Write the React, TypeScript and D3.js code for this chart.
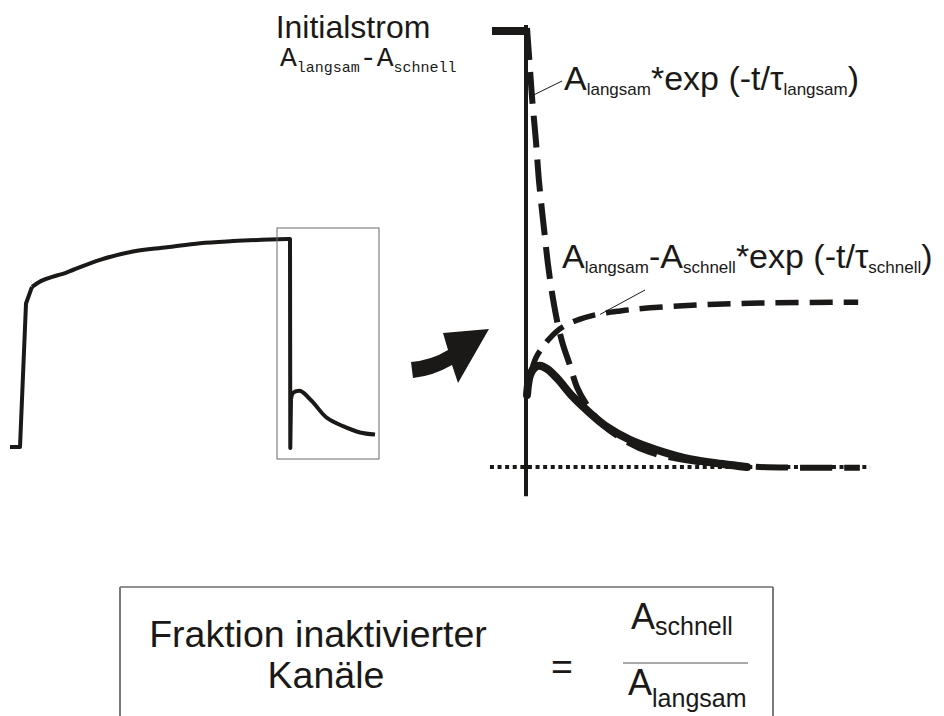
import React from "react";
import * as d3 from "d3";

// Overview recording: time (ms) and normalized current
const overviewTime = [0, 10, 16, 22, 28, 57, 90, 123, 157, 190, 223, 278, 280, 280.3, 281, 283, 289, 300, 317, 333, 350, 365];
const overviewCurrent = [0, 0, 0.69, 0.77, 0.79, 0.84, 0.9, 0.94, 0.96, 0.98, 0.99, 1.0, 1.0, -0.005, 0.23, 0.26, 0.27, 0.23, 0.14, 0.1, 0.07, 0.06];

// Zoomed view: holding current before the step (normalized to the initial current)
const holdTime = [-10.3, 0];
const holdCurrent = [1, 1];
const dropCurrent = [1.014, -0.067];

// Recovered current after the step
const recoveryTime = [0, 0.9, 2.4, 3.8, 5.9, 8.8, 13.5, 18.5, 23.5, 30.3, 38.2, 47.9, 57.6, 64.7];
const recoveryCurrent = [0.165, 0.211, 0.229, 0.232, 0.225, 0.204, 0.161, 0.124, 0.092, 0.062, 0.039, 0.018, 0.007, 0.0];

// A_langsam * exp(-t / tau_langsam)
const slowTime = [0, 0.9, 1.5, 2.6, 3.5, 4.4, 5.3, 6.2, 7.6, 9.1, 10.6, 12.6, 14.7, 17.6, 21.5, 27.4, 36.2, 47.9, 59.7, 68.5, 97.9];
const slowCurrent = [1.007, 0.911, 0.846, 0.75, 0.658, 0.589, 0.525, 0.463, 0.388, 0.326, 0.28, 0.234, 0.183, 0.142, 0.103, 0.067, 0.034, 0.014, 0.005, 0.0, -0.002];

// A_langsam - A_schnell * exp(-t / tau_schnell)
const fastTime = [1.2, 2.6, 4.4, 6.8, 9.7, 14.1, 20.0, 27.4, 36.2, 50.9, 68.5, 97.4];
const fastCurrent = [0.218, 0.25, 0.273, 0.296, 0.317, 0.335, 0.349, 0.358, 0.365, 0.372, 0.376, 0.378];

// Zero-current reference line extent
const baselineTime = [-10.9, 100.9];

const INK = "#1b1918";
const SANS = "'Liberation Sans', Arial, Helvetica, sans-serif";
const MONO = "'Liberation Mono', 'Courier New', monospace";

type Pt = [number, number];
const zip = (xs: number[], ys: number[]): Pt[] => xs.map((x, i) => [x, ys[i]]);

export default function App() {
  const W = 944;
  const H = 716;

  // overview panel scales
  const xL = d3.scaleLinear().domain([0, 370]).range([10, 380]);
  const yL = d3.scaleLinear().domain([0, 1]).range([447, 239]);

  // zoomed panel scales
  const xR = d3.scaleLinear().domain([0, 100]).range([527, 867]);
  const yR = d3.scaleLinear().domain([0, 1]).range([467, 31]);

  const lineL = d3
    .line<Pt>()
    .x((d) => xL(d[0]))
    .y((d) => yL(d[1]))
    .curve(d3.curveCatmullRom.alpha(1));
  const lineLLin = d3
    .line<Pt>()
    .x((d) => xL(d[0]))
    .y((d) => yL(d[1]));
  const lineR = d3
    .line<Pt>()
    .x((d) => xR(d[0]))
    .y((d) => yR(d[1]))
    .curve(d3.curveCatmullRom.alpha(0.5));
  const lineRLinear = d3
    .line<Pt>()
    .x((d) => xR(d[0]))
    .y((d) => yR(d[1]));

  const overview = zip(overviewTime, overviewCurrent);
  // split the overview trace so that the steps stay sharp
  const ovRise = overview.slice(0, 4);
  const ovPlateau = overview.slice(3, 12);
  const ovStep = overview.slice(11, 15);
  const ovTail = overview.slice(14);

  const recovery = zip(recoveryTime, recoveryCurrent);
  const slow = zip(slowTime, slowCurrent);
  const fast = zip(fastTime, fastCurrent);

  // zoom frame around the end of the overview trace
  const frameX0 = xL(267);
  const frameX1 = xL(369);

  const leader1: [Pt, Pt] = [
    [562, 81],
    [xR(1.9), yR(0.853)],
  ];
  const leader2: [Pt, Pt] = [
    [645, 290],
    [xR(21.5), yR(0.35)],
  ];

  return (
    <svg
      width={W}
      height={H}
      viewBox={`0 0 ${W} ${H}`}
      style={{ position: "absolute", left: 0, top: 0, background: "#fff" }}
    >
      <rect x={0} y={0} width={W} height={H} fill="#fff" />

      {/* overview trace */}
      <g fill="none" stroke={INK} strokeWidth={4} strokeLinejoin="round" strokeLinecap="butt">
        <path d={lineLLin(ovRise) ?? ""} />
        <path d={lineL(ovPlateau) ?? ""} />
        <path d={lineLLin(ovStep) ?? ""} />
        <path d={lineL(ovTail) ?? ""} />
      </g>
      <rect
        x={frameX0}
        y={228}
        width={frameX1 - frameX0}
        height={231}
        fill="none"
        stroke="#6b6b6b"
        strokeWidth={1}
      />

      {/* arrow */}
      <path
        d="M411,362 Q432,360 448,350 L443,333 L489,329 L458,383 L452,365 Q433,376 413,378 Z"
        fill={INK}
      />

      {/* zero line */}
      <line
        x1={xR(baselineTime[0])}
        x2={xR(baselineTime[1])}
        y1={yR(0)}
        y2={yR(0)}
        stroke={INK}
        strokeWidth={4}
        strokeDasharray="4 3.6"
      />

      {/* fit curves */}
      <path
        d={lineR(slow) ?? ""}
        fill="none"
        stroke={INK}
        strokeWidth={6}
        strokeDasharray="32 12"
      />
      <path
        d={lineR(fast) ?? ""}
        fill="none"
        stroke={INK}
        strokeWidth={5.5}
        strokeDasharray="23 11"
      />

      {/* recorded current in the zoomed view */}
      <path
        d={lineRLinear(zip(holdTime, holdCurrent)) ?? ""}
        fill="none"
        stroke={INK}
        strokeWidth={8}
      />
      <line
        x1={xR(0) - 1}
        x2={xR(0) - 1}
        y1={yR(dropCurrent[0])}
        y2={yR(dropCurrent[1])}
        stroke={INK}
        strokeWidth={4}
      />
      <path
        d={lineR(recovery) ?? ""}
        fill="none"
        stroke={INK}
        strokeWidth={8}
        strokeLinecap="round"
        strokeLinejoin="round"
      />

      {/* leader lines */}
      <g stroke={INK} strokeWidth={1}>
        <line x1={leader1[0][0]} y1={leader1[0][1]} x2={leader1[1][0]} y2={leader1[1][1]} />
        <line x1={leader2[0][0]} y1={leader2[0][1]} x2={leader2[1][0]} y2={leader2[1][1]} />
      </g>

      {/* labels */}
      <g fill={INK}>
        <text x={353} y={38} fontFamily={SANS} fontSize={32} textAnchor="middle">
          Initialstrom
        </text>
        <text x={280} y={66} fontFamily={MONO} fontSize={28}>
          A
          <tspan fontSize={15} dy={6}>langsam</tspan>
          <tspan fontSize={28} dy={-6}>-A</tspan>
          <tspan fontSize={15} dy={6}>schnell</tspan>
        </text>

        <text x={564} y={90} fontFamily={SANS} fontSize={34}>
          A
          <tspan fontSize={17} dy={5}>langsam</tspan>
          <tspan dy={-5}>*exp (-t/τ</tspan>
          <tspan fontSize={17} dy={5}>langsam</tspan>
          <tspan dy={-5}>)</tspan>
        </text>

        <text x={562} y={268} fontFamily={SANS} fontSize={34}>
          A
          <tspan fontSize={17} dy={5}>langsam</tspan>
          <tspan dy={-5}>-A</tspan>
          <tspan fontSize={17} dy={5}>schnell</tspan>
          <tspan dy={-5}>*exp (-t/τ</tspan>
          <tspan fontSize={17} dy={5}>schnell</tspan>
          <tspan dy={-5}>)</tspan>
        </text>
      </g>

      {/* definition box */}
      <g>
        <line x1={120} x2={773} y1={587} y2={587} stroke="#222" strokeWidth={1.2} />
        <line x1={120} x2={120} y1={587} y2={H} stroke="#7a7a7a" strokeWidth={2} />
        <line x1={773} x2={773} y1={587} y2={H} stroke="#7a7a7a" strokeWidth={2} />
        <g fill={INK} fontFamily={SANS}>
          <text x={318} y={647} fontSize={37.5} textAnchor="middle">
            Fraktion inaktivierter
          </text>
          <text x={326} y={688} fontSize={37.5} textAnchor="middle">
            Kanäle
          </text>
          <text x={562} y={679} fontSize={37.5} textAnchor="middle">
            =
          </text>
          <text x={631} y={629} fontSize={36}>
            A<tspan fontSize={25} dy={6}>schnell</tspan>
          </text>
          <line x1={623} x2={748} y1={663} y2={663} stroke="#555" strokeWidth={1} />
          <text x={628} y={695} fontSize={36}>
            A<tspan fontSize={25} dy={12}>langsam</tspan>
          </text>
        </g>
      </g>
    </svg>
  );
}
